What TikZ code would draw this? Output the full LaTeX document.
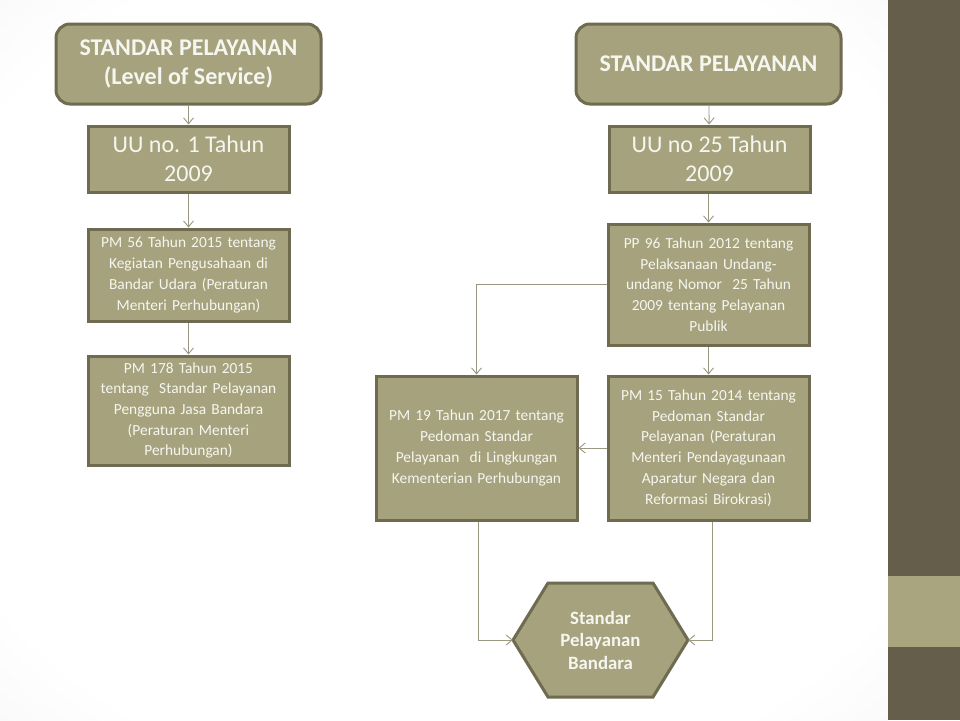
\documentclass[tikz,border=0pt]{standalone}
\usepackage{fontspec}
\setmainfont{Carlito}
\usetikzlibrary{arrows.meta,calc}
\definecolor{boxfill}{HTML}{A5A27D}
\definecolor{boxline}{HTML}{6E6B50}
\definecolor{conn}{HTML}{9A9880}
\definecolor{banddark}{HTML}{655E4A}
\definecolor{bandlight}{HTML}{A9A57F}
\definecolor{bggray}{HTML}{DADADA}
\definecolor{txt}{HTML}{F6F6F0}
\pgfdeclareradialshading{bgshade}{\pgfpoint{0bp}{0bp}}{color(0bp)=(white); color(30bp)=(white); color(71bp)=(bggray)}
\tikzset{
  basebox/.style={draw=boxline, line width=3pt, fill=boxfill, text=txt, align=center, inner sep=1pt},
  titlebox/.style={basebox, rounded corners=14pt, minimum width=265pt, minimum height=80pt, font=\fontsize{24}{29}\selectfont\bfseries},
  lawbox/.style={basebox, minimum width=201pt, minimum height=66pt, font=\fontsize{24}{29}\selectfont},
  regbox/.style={basebox, minimum width=201pt, text width=196pt, font=\fontsize{15.4}{20.7}\selectfont},
  conn/.style={draw=conn, line width=0.9pt, -{Straight Barb[length=6pt,width=10pt,line width=0.9pt]}}
}
\begin{document}
\begin{tikzpicture}[x=1pt,y=-1pt]
\useasboundingbox (0,0) rectangle (960,720);
\shade[shading=bgshade] (0,0) rectangle (888,720);
\fill[banddark] (888,0) rectangle (960,720);
\fill[bandlight] (888,576) rectangle (960,647);

% left column
\node[titlebox] (A) at (188.5,64) {STANDAR PELAYANAN\\(Level of Service)};
\node[lawbox] (B) at (188.5,159) {UU no. 1 Tahun\\2009};
\node[regbox, minimum height=92pt] (C) at (188.5,275) {PM 56 Tahun 2015 tentang\\Kegiatan Pengusahaan di\\Bandar Udara (Peraturan\\Menteri Perhubungan)};
\node[regbox, minimum height=109pt] (D) at (188.5,410.5) {PM 178 Tahun 2015\\tentang\ \ Standar Pelayanan\\Pengguna Jasa Bandara\\(Peraturan Menteri\\Perhubungan)};

% right column
\node[titlebox] (E) at (708.5,64) {STANDAR PELAYANAN};
\node[lawbox] (F) at (709.5,159) {UU no 25 Tahun\\2009};
\node[regbox, minimum height=121pt] (G) at (708.5,284.5) {PP 96 Tahun 2012 tentang\\Pelaksanaan Undang-\\undang Nomor\ \ 25 Tahun\\2009 tentang Pelayanan\\Publik};
\node[regbox, minimum height=144pt] (H) at (708.5,448) {PM 15 Tahun 2014 tentang\\Pedoman Standar\\Pelayanan (Peraturan\\Menteri Pendayagunaan\\Aparatur Negara dan\\Reformasi Birokrasi)};
\node[regbox, minimum height=144pt] (I) at (476.5,448) {PM 19 Tahun 2017 tentang\\Pedoman Standar\\Pelayanan\ \ di Lingkungan\\Kementerian Perhubungan};

% hexagon
\coordinate (Jc) at (600.5,640);
\draw[draw=boxline, line width=3pt, fill=boxfill, line join=miter]
  ($(Jc)+(-87.5,0)$) -- ($(Jc)+(-52.5,-57)$) -- ($(Jc)+(52.5,-57)$) -- ($(Jc)+(87.5,0)$)
  -- ($(Jc)+(52.5,57)$) -- ($(Jc)+(-52.5,57)$) -- cycle;
\node[text=txt, align=center, minimum width=175pt, minimum height=114pt, inner sep=0pt,
  font=\fontsize{18.8}{22.5}\selectfont\bfseries] (J) at (Jc) {Standar\\Pelayanan\\Bandara};

% connectors
\draw[conn] (A) -- (B);
\draw[conn] (B) -- (C);
\draw[conn] (C) -- (D);
\draw[conn] (E) -- (F);
\draw[conn] (F.south -| G.north) -- (G.north);
\draw[conn] (G.west) -| (I.north);
\draw[conn] (G) -- (H);
\draw[conn] (H.west) -- (I.east);
\draw[conn] ($(I.south)+(1.5,0)$) |- (J.west);
\draw[conn] ($(H.south)+(3.5,0)$) |- (J.east);
\end{tikzpicture}
\end{document}
